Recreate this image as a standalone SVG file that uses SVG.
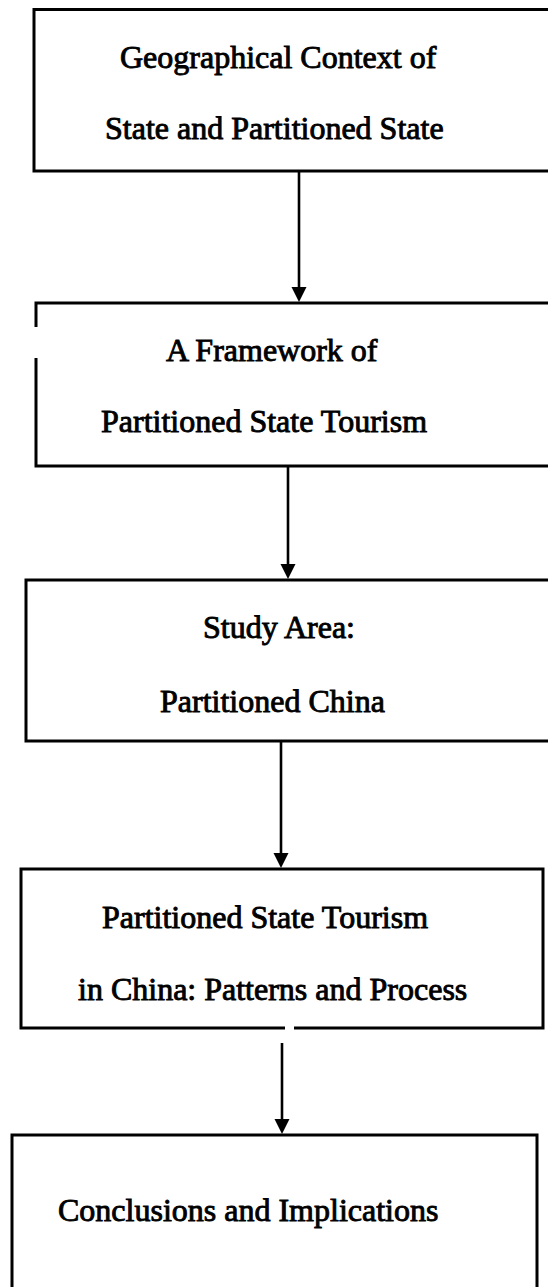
<svg xmlns="http://www.w3.org/2000/svg" width="548" height="1287" viewBox="0 0 548 1287">
  <defs>
    <style>
      .box { fill: none; stroke: #000; stroke-width: 3; }
      .lbl { font-family: "Liberation Serif", "Times New Roman", serif; font-size: 32px; fill: #000; stroke: #000; stroke-width: 0.9; }
      .conn { stroke: #000; stroke-width: 2.6; fill: none; }
    </style>
    <marker id="ah" markerWidth="16" markerHeight="16" refX="5" refY="8" orient="auto" markerUnits="userSpaceOnUse">
      <path d="M0,0.5 L15,8 L0,15.5 Z" fill="#000"/>
    </marker>
  </defs>
  <rect width="548" height="1287" fill="#fff"/>

  <!-- flow: step 1 -->
  <g id="node-context">
    <rect class="box" x="34" y="9.5" width="540" height="161.5"/>
    <text class="lbl" x="120" y="68">Geographical Context of</text>
    <text class="lbl" x="105" y="139">State and Partitioned State</text>
  </g>

  <!-- flow: step 2 (left edge broken near the top) -->
  <g id="node-framework">
    <path class="box" d="M36,327 V303 H574 M574,466 H36 V358"/>
    <text class="lbl" x="166" y="361">A Framework of</text>
    <text class="lbl" x="101" y="432">Partitioned State Tourism</text>
  </g>

  <!-- flow: step 3 -->
  <g id="node-study-area">
    <rect class="box" x="26" y="580" width="548" height="161"/>
    <text class="lbl" x="203" y="638">Study Area:</text>
    <text class="lbl" x="160" y="712">Partitioned China</text>
  </g>

  <!-- flow: step 4 (small break in the bottom edge) -->
  <g id="node-patterns">
    <path class="box" d="M285,1028 H21 V869 H543 V1028 H294"/>
    <text class="lbl" x="102" y="928">Partitioned State Tourism</text>
    <text class="lbl" x="78" y="1000">in China: Patterns and Process</text>
  </g>

  <!-- flow: step 5 (runs past the bottom edge) -->
  <g id="node-conclusions">
    <path class="box" d="M12,1300 V1135 H537 V1300"/>
    <text class="lbl" x="58" y="1221">Conclusions and Implications</text>
  </g>

  <!-- connectors -->
  <g id="connectors">
    <line class="conn" x1="299" y1="171" x2="299" y2="292" marker-end="url(#ah)"/>
    <line class="conn" x1="288" y1="466" x2="288" y2="569" marker-end="url(#ah)"/>
    <line class="conn" x1="281" y1="741" x2="281" y2="858" marker-end="url(#ah)"/>
    <line class="conn" x1="282" y1="1043" x2="282" y2="1124" marker-end="url(#ah)"/>
  </g>
</svg>
